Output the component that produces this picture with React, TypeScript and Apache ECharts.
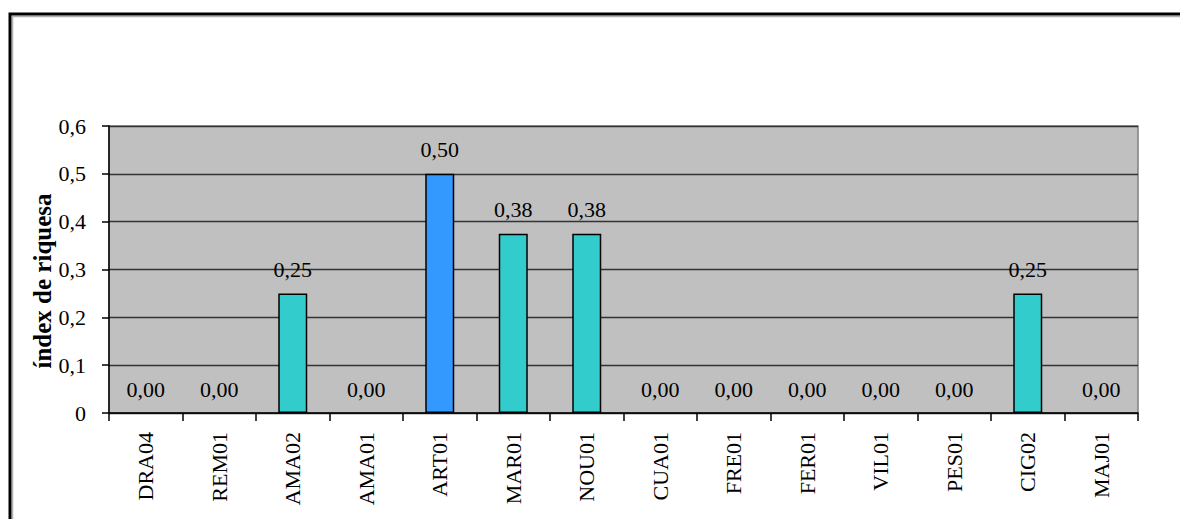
import React, { useEffect, useRef } from "react";
import * as echarts from "echarts";

const categories = ["DRA04", "REM01", "AMA02", "AMA01", "ART01", "MAR01", "NOU01", "CUA01", "FRE01", "FER01", "VIL01", "PES01", "CIG02", "MAJ01"];
const values = [0, 0, 0.25, 0, 0.5, 0.375, 0.375, 0, 0, 0, 0, 0, 0.25, 0];
const highlighted = ["ART01"];
const yTicks = [0, 0.1, 0.2, 0.3, 0.4, 0.5, 0.6];
const yAxisTitle = "índex de riquesa";

const FONT = "'Liberation Serif', 'Times New Roman', serif";

export default function App() {
  const ref = useRef<HTMLDivElement>(null);
  useEffect(() => {
    document.body.style.margin = "0";
    if (!ref.current) return;
    const chart = echarts.init(ref.current, undefined, { renderer: "svg" });
    const fmtTick = (v: number) => (v === 0 ? "0" : String(Math.round(v * 10) / 10).replace(".", ","));
    chart.setOption({
      animation: false,
      backgroundColor: "#ffffff",
      grid: {
        left: 109,
        top: 126,
        right: 42,
        bottom: 106,
        show: true,
        backgroundColor: "#C0C0C0",
        borderColor: "#808080",
        borderWidth: 1.5,
      },
      graphic: [
        {
          type: "polyline",
          shape: { points: [[12.5, 600], [12.5, 16.5], [1200, 16.5]] },
          style: { stroke: "#b0b0b0", lineWidth: 1.5, fill: "none" },
          silent: true,
        },
        {
          type: "polyline",
          shape: { points: [[10, 600], [10, 14], [1200, 14]] },
          style: { stroke: "#000000", lineWidth: 3, fill: "none" },
          silent: true,
        },
        {
          type: "text",
          x: 42,
          y: 281,
          rotation: Math.PI / 2,
          style: {
            text: yAxisTitle,
            font: `bold 25px ${FONT}`,
            fill: "#000",
            textAlign: "center",
            textVerticalAlign: "middle",
          },
          silent: true,
        },
      ],
      xAxis: {
        type: "category",
        data: categories,
        boundaryGap: true,
        axisLine: { show: true, lineStyle: { color: "#000", width: 1.5 } },
        axisTick: { show: true, alignWithLabel: false, length: 8, lineStyle: { color: "#000", width: 1.5 } },
        axisLabel: {
          rotate: 90,
          interval: 0,
          margin: 19,
          color: "#000",
          fontFamily: FONT,
          fontSize: 22,
        },
        splitLine: { show: false },
      },
      yAxis: {
        type: "value",
        min: 0,
        max: yTicks[yTicks.length - 1],
        interval: 0.1,
        axisLine: { show: true, lineStyle: { color: "#000", width: 1.5 } },
        axisTick: { show: true, length: 7, lineStyle: { color: "#000", width: 1.5 } },
        axisLabel: {
          margin: 23,
          color: "#000",
          fontFamily: FONT,
          fontSize: 22,
          formatter: (v: number) => fmtTick(v),
        },
        splitLine: { show: true, lineStyle: { color: "#333", width: 1.3 } },
      },
      series: [
        {
          type: "bar",
          data: values.map((v, i) => ({
            value: v,
            itemStyle: {
              color: highlighted.includes(categories[i]) ? "#3399FF" : "#33CCCC",
              borderWidth: v === 0 ? 0 : 1.5,
            },
          })),
          barWidth: 29,
          itemStyle: { borderColor: "#000", borderWidth: 1.5 },
          label: {
            show: true,
            position: "top",
            distance: 13,
            color: "#000",
            fontFamily: FONT,
            fontSize: 22,
            formatter: (p: any) => Number(p.value).toFixed(2).replace(".", ","),
          },
        },
      ],
    });
    return () => chart.dispose();
  }, []);
  return <div ref={ref} style={{ width: 1180, height: 519 }} />;
}
